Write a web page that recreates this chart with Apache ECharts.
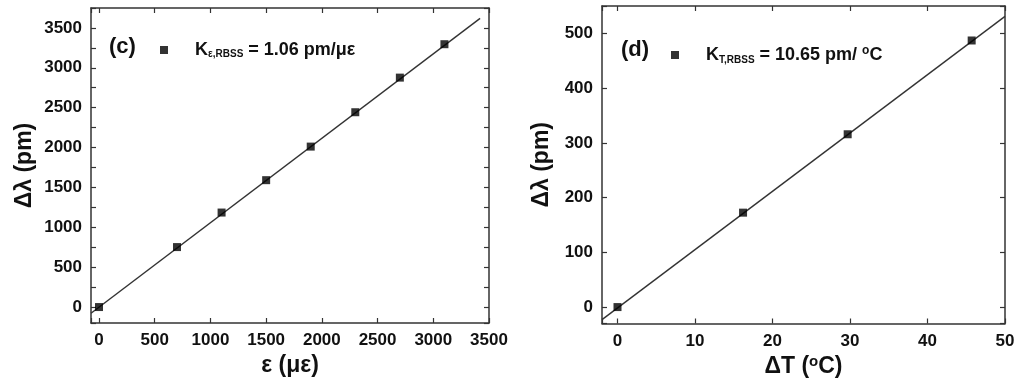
<!DOCTYPE html>
<html><head><meta charset="utf-8">
<script src="https://cdn.jsdelivr.net/npm/echarts@6/dist/echarts.min.js"></script>
<style>html,body{margin:0;padding:0;background:#fff}#c{width:1024px;height:383px}</style>
</head><body><div id="c"></div>
<script>
// Panel (c): strain
const strainX = [0, 700, 1100, 1500, 1900, 2300, 2700, 3100];
const strainY = [0, 752, 1185, 1591, 2012, 2443, 2877, 3296];
const strainFitX = [-72, 3420];
const strainFitY = [-78, 3620];
const strainXTicks = [0, 500, 1000, 1500, 2000, 2500, 3000, 3500];
const strainYTicks = [0, 500, 1000, 1500, 2000, 2500, 3000, 3500];
// Panel (d): temperature
const tempX = [0, 16.2, 29.7, 45.7];
const tempY = [0, 172.5, 315.7, 487];
const tempFitX = [-2, 50];
const tempFitY = [-23, 531];
const tempXTicks = [0, 10, 20, 30, 40, 50];
const tempYTicks = [0, 100, 200, 300, 400, 500];

const FONT = 'Liberation Sans, Arial, sans-serif';
const AX = '#333';
function pairs(xs, ys){ return xs.map((x,i)=>[x, ys[i]]); }
function axis(pos, gi, min, max, step, labelTicks, show, extra){
  const o = {
    type:'value', gridIndex:gi, position:pos, min:min, max:max,
    minInterval:step, maxInterval:step,
    axisLine:{show:true, onZero:false, lineStyle:{color:AX, width:1.5}},
    axisTick:{show:true, inside:true, length:5, lineStyle:{color:AX, width:1.2}},
    splitLine:{show:false},
    axisLabel:{show:show, color:'#111', fontFamily:FONT, fontWeight:'bold', fontSize:17, margin:9,
      formatter: v => labelTicks.indexOf(v) >= 0 ? String(v) : ''},
  };
  return Object.assign(o, extra||{});
}
const nameStyle = {color:'#111', fontFamily:FONT, fontWeight:'bold', fontSize:23,
  rich:{sup:{fontFamily:FONT, fontWeight:'bold', fontSize:15, color:'#111', verticalAlign:'top', padding:[0,0,9,0]}}};
const legendRich = {
  k:{fontFamily:FONT, fontWeight:'bold', fontSize:18, color:'#111', padding:[0,0,0,22]},
  sub:{fontFamily:FONT, fontWeight:'bold', fontSize:10, color:'#111', verticalAlign:'bottom', padding:[9,0,0,0]},
  sup:{fontFamily:FONT, fontWeight:'bold', fontSize:12, color:'#111', verticalAlign:'top', padding:[0,0,8,0]},
  v:{fontFamily:FONT, fontWeight:'bold', fontSize:18, color:'#111'}
};

const chart = echarts.init(document.getElementById('c'), null, {renderer:'canvas'});
chart.setOption({
  animation:false,
  grid:[
    {left:91, right:535, top:8, bottom:60},
    {left:602, right:19, top:6, bottom:58}
  ],
  xAxis:[
    axis('bottom',0,-72,3500,500,strainXTicks,true,{name:'ε (με)', nameLocation:'middle', nameGap:31, nameTextStyle:nameStyle}),
    axis('top',0,-72,3500,500,strainXTicks,false),
    axis('bottom',1,-2,50,10,tempXTicks,true,{name:'ΔT ({sup|o}C)', nameLocation:'middle', nameGap:31, nameTextStyle:nameStyle}),
    axis('top',1,-2,50,10,tempXTicks,false)
  ],
  yAxis:[
    axis('left',0,-200,3750,250,strainYTicks,true,{name:'Δλ (pm)', nameLocation:'middle', nameGap:55, nameTextStyle:nameStyle}),
    axis('right',0,-200,3750,250,strainYTicks,false),
    axis('left',1,-30,550,100,tempYTicks,true,{name:'Δλ (pm)', nameLocation:'middle', nameGap:49, nameTextStyle:nameStyle}),
    axis('right',1,-30,550,100,tempYTicks,false)
  ],
  legend:[
    {data:['Kc'], left:155, top:36, icon:'rect', itemWidth:8, itemHeight:8,
     formatter:()=>'{k|K}{sub|ε,RBSS}{v| = 1.06 pm/με}', textStyle:{rich:legendRich}},
    {data:['Kd'], left:666, top:40, icon:'rect', itemWidth:8, itemHeight:8,
     formatter:()=>'{k|K}{sub|T,RBSS}{v| = 10.65 pm/ }{sup|o}{v|C}', textStyle:{rich:legendRich}}
  ],
  graphic:[
    {type:'text', left:109, top:36, style:{text:'(c)', font:'bold 22px '+FONT, fill:'#111'}},
    {type:'text', left:621, top:39, style:{text:'(d)', font:'bold 22px '+FONT, fill:'#111'}}
  ],
  series:[
    {type:'line', xAxisIndex:0, yAxisIndex:0, data:pairs(strainFitX, strainFitY), showSymbol:false,
     lineStyle:{color:'#333', width:1.4}, silent:true, z:2},
    {name:'Kc', type:'scatter', xAxisIndex:0, yAxisIndex:0, data:pairs(strainX, strainY), symbol:'rect', symbolSize:8,
     itemStyle:{color:'#000'}, z:3},
    {type:'line', xAxisIndex:2, yAxisIndex:2, data:pairs(tempFitX, tempFitY), showSymbol:false,
     lineStyle:{color:'#333', width:1.4}, silent:true, z:2},
    {name:'Kd', type:'scatter', xAxisIndex:2, yAxisIndex:2, data:pairs(tempX, tempY), symbol:'rect', symbolSize:8,
     itemStyle:{color:'#000'}, z:3}
  ]
});
</script></body></html>
